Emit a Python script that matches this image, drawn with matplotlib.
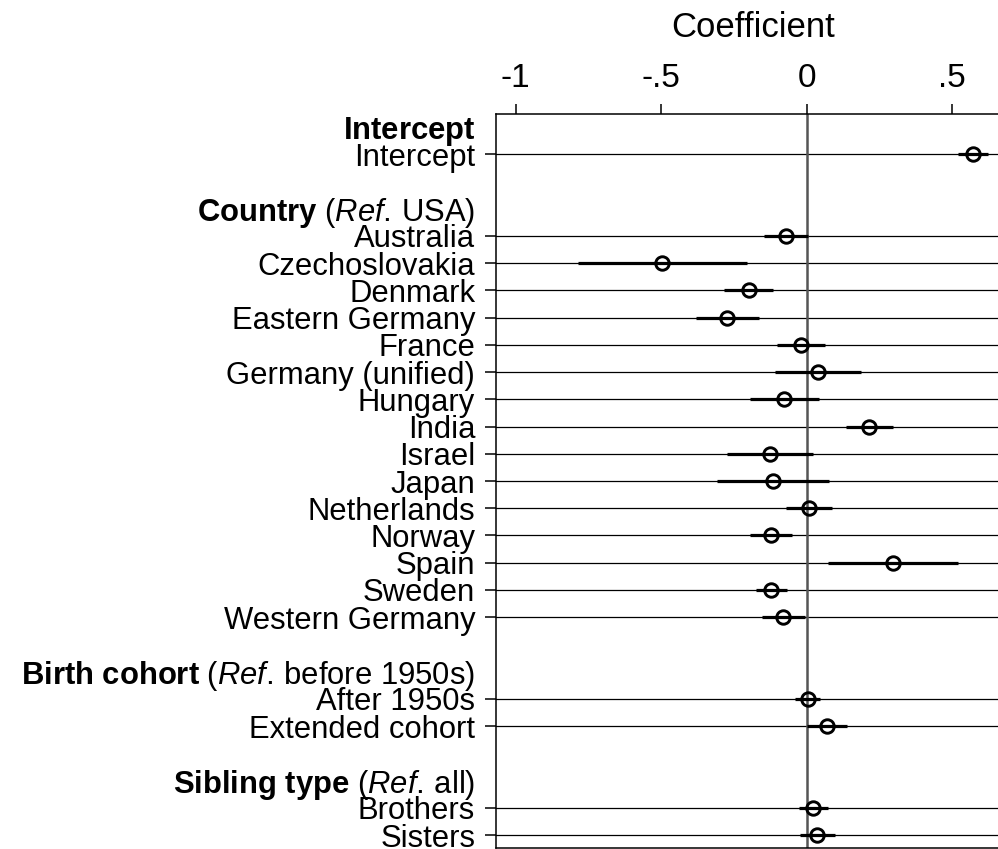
import matplotlib
matplotlib.use("Agg")
import matplotlib.pyplot as plt

plt.rcParams['font.family'] = ['Liberation Sans', 'DejaVu Sans']
plt.rcParams['mathtext.fontset'] = 'custom'
plt.rcParams['mathtext.rm'] = 'Liberation Sans'
plt.rcParams['mathtext.it'] = 'Liberation Sans:italic'
plt.rcParams['mathtext.bf'] = 'Liberation Sans:bold'

# ---- data ----
group_headers = [
    r"$\mathbf{Intercept}$",
    r"$\mathbf{Country}\mathrm{\ (}\mathit{Ref.}\,\mathrm{USA)}$",
    r"$\mathbf{Birth\ cohort}\mathrm{\ (}\mathit{Ref.}\,\mathrm{before\ 1950s)}$",
    r"$\mathbf{Sibling\ type}\mathrm{\ (}\mathit{Ref.}\,\mathrm{all)}$",
]
intercept_labels = ["Intercept"]
intercept_coef = [0.572]
intercept_lo = [0.520]
intercept_hi = [0.623]

country_labels = ["Australia", "Czechoslovakia", "Denmark", "Eastern Germany", "France",
                  "Germany (unified)", "Hungary", "India", "Israel", "Japan", "Netherlands",
                  "Norway", "Spain", "Sweden", "Western Germany"]
country_coef = [-0.071, -0.496, -0.199, -0.274, -0.020, 0.039, -0.077, 0.215, -0.126,
                -0.116, 0.008, -0.121, 0.295, -0.123, -0.080]
country_lo = [-0.147, -0.784, -0.283, -0.381, -0.102, -0.108, -0.195, 0.134, -0.273,
              -0.308, -0.071, -0.194, 0.073, -0.174, -0.153]
country_hi = [0.006, -0.206, -0.117, -0.163, 0.063, 0.186, 0.042, 0.297, 0.021,
              0.076, 0.086, -0.049, 0.519, -0.069, -0.007]

cohort_labels = ["After 1950s", "Extended cohort"]
cohort_coef = [0.003, 0.070]
cohort_lo = [-0.039, 0.000]
cohort_hi = [0.046, 0.138]

sibling_labels = ["Brothers", "Sisters"]
sibling_coef = [0.021, 0.036]
sibling_lo = [-0.027, -0.023]
sibling_hi = [0.072, 0.097]

xtick_values = [-1, -0.5, 0, 0.5]
xtick_labels = ["-1", "-.5", "0", ".5"]

groups = [
    (intercept_labels, intercept_coef, intercept_lo, intercept_hi),
    (country_labels, country_coef, country_lo, country_hi),
    (cohort_labels, cohort_coef, cohort_lo, cohort_hi),
    (sibling_labels, sibling_coef, sibling_lo, sibling_hi),
]

# ---- layout of rows ----
tick_pos, tick_lab, is_header = [], [], []
pts = []  # (pos, coef, lo, hi)
pos = -1
for gi, (labs, coefs, los, his) in enumerate(groups):
    if gi > 0:
        pos += 1  # blank row
    tick_pos.append(pos); tick_lab.append(group_headers[gi]); is_header.append(True)
    pos += 1
    for lab, c, lo, hi in zip(labs, coefs, los, his):
        tick_pos.append(pos); tick_lab.append(lab); is_header.append(False)
        pts.append((pos, c, lo, hi))
        pos += 1

W, H = 998, 849
fig = plt.figure(figsize=(W / 100, H / 100), dpi=100)
left_px, right_px, top_px, bot_px = 496, 1003, 114, 848
ax = fig.add_axes([left_px / W, (H - bot_px) / H, (right_px - left_px) / W, (bot_px - top_px) / H])

FS_LAB = 22.3
FS_TICK = 24
FS_TITLE = 25

ax.set_xlim(-1.067, 0.674)
ax.set_ylim(25.47, -1.47)

# gridlines at data rows
for p, c, lo, hi in pts:
    ax.axhline(p, color='black', lw=0.9, zorder=1)
ax.axvline(0, color='#555555', lw=1.8, zorder=2)

for p, c, lo, hi in pts:
    ax.plot([lo, hi], [p, p], color='black', lw=2.3, solid_capstyle='butt', zorder=3)
ax.plot([q[1] for q in pts], [q[0] for q in pts], linestyle='none', marker='o',
        ms=9.7, mew=2.1, mfc='none', mec='black', zorder=4)

ax.xaxis.tick_top()
ax.set_xticks(xtick_values)
ax.set_xticklabels(xtick_labels, fontsize=FS_TICK)
ax.tick_params(axis='x', direction='out', length=7.5, width=1.1, pad=7, colors='black')

ax.set_yticks(tick_pos)
ax.set_yticklabels(tick_lab, fontsize=FS_LAB)
ax.tick_params(axis='y', direction='out', length=8, width=1.1, pad=7)
for t, h in zip(ax.yaxis.get_major_ticks(), is_header):
    if h:
        t.tick1line.set_visible(False)

for s in ['left', 'top', 'bottom']:
    ax.spines[s].set_linewidth(1.1)
ax.spines['right'].set_visible(False)

fig.text(753 / W, 1 - 37 / H, "Coefficient", ha='center', va='baseline', fontsize=FS_TITLE)

fig.savefig("out.png", dpi=100)
